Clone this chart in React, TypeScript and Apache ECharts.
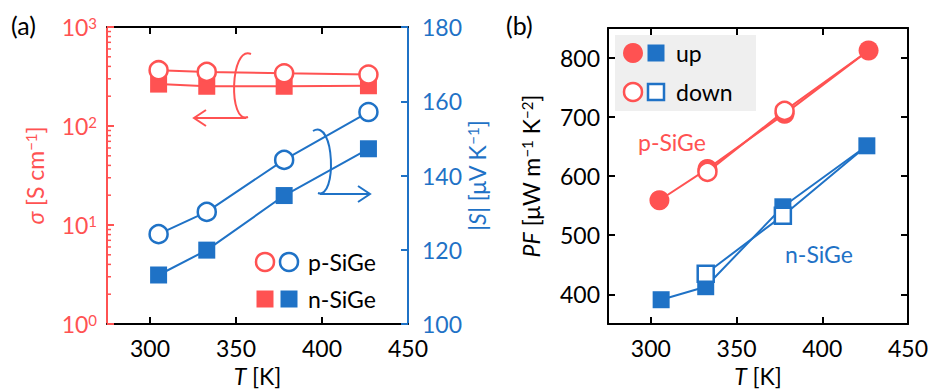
import React, { useEffect, useRef } from 'react';
import * as echarts from 'echarts';

const RED = '#FF5252';
const BLUE = '#1F72C6';
const FONT = 'Lato';
const FS = 23;

// Panel (a)
const tempA = [305, 333, 378, 427];
const sigmaP = [366, 352, 341, 331];
const sigmaN = [265, 252, 252, 255];
const seebeckP = [124.2, 130.2, 144.2, 157.1];
const seebeckN = [113.2, 119.9, 134.6, 147.2];

// Panel (b)
const tempUpP = [305, 333, 378, 427];
const pfUpP = [559, 612, 705, 812];
const tempDownP = [333, 378, 427];
const pfDownP = [607, 710, 812];
const tempUpN = [306, 332, 377, 426];
const pfUpN = [391, 413, 548, 651];
const tempDownN = [332, 377, 426];
const pfDownN = [435, 533, 651];

// Ticks
const xLabelTicks = [300, 350, 400, 450];
const xInnerTicks = [300, 350, 400];
const pfTicks = [400, 500, 600, 700, 800];
const logMinorTicks = [2, 3, 4, 5, 6, 7, 8, 9, 20, 30, 40, 50, 60, 70, 80, 90, 200, 300, 400, 500, 600, 700, 800, 900];

const supRich = (color: string) => ({
  b: { fontSize: FS, color, fontFamily: FONT },
  i: { fontSize: FS, color, fontFamily: FONT, fontStyle: 'italic' },
  s: { fontSize: 15, color, fontFamily: FONT, verticalAlign: 'top' },
});
const nameStyle = (color: string) => ({
  fontSize: FS, color, fontFamily: FONT, rich: supRich(color),
});

function xAxisBottom(gridIndex: number) {
  return {
    type: 'value', gridIndex, min: 275, max: 450, position: 'bottom',
    axisLine: { show: true, onZero: false, lineStyle: { color: '#000', width: 2 } },
    axisTick: { show: true, inside: true, length: 7, lineStyle: { color: '#000', width: 2 }, customValues: xInnerTicks },
    axisLabel: { show: true, customValues: xLabelTicks, color: '#000', fontSize: FS, fontFamily: FONT, margin: 12 },
    splitLine: { show: false },
    name: '{i|T} [K]', nameLocation: 'middle', nameGap: 40,
    nameTextStyle: nameStyle('#000'),
  };
}
function xAxisTop(gridIndex: number) {
  return {
    type: 'value', gridIndex, min: 275, max: 450, position: 'top',
    axisLine: { show: true, onZero: false, lineStyle: { color: '#000', width: 2 } },
    axisTick: { show: true, inside: true, length: 7, lineStyle: { color: '#000', width: 2 }, customValues: xInnerTicks },
    axisLabel: { show: false },
    splitLine: { show: false },
  };
}

function lineSeries(x: number[], y: number[], xi: number, yi: number, color: string, symbol: string, filled: boolean, size: number, lastNone = false) {
  return {
    type: 'line', xAxisIndex: xi, yAxisIndex: yi, silent: true,
    data: x.map((t, i) => (lastNone && i === x.length - 1 ? { value: [t, y[i]], symbol: 'none' } : [t, y[i]])),
    symbol, symbolSize: size, showAllSymbol: true,
    lineStyle: { color, width: 2 },
    itemStyle: filled ? { color, borderWidth: 0 } : { color: '#fff', borderColor: color, borderWidth: 2.5 },
    emphasis: { disabled: true },
  };
}

export default function App() {
  const ref = useRef<HTMLDivElement>(null);
  useEffect(() => {
    const chart = echarts.init(ref.current!, null, { renderer: 'svg' });
    const txt = (x: number, y: number, text: string, fill: string, size = FS) => ({
      type: 'text', x, y, silent: true,
      style: { text, fill, fontSize: size, fontFamily: FONT, align: 'left', verticalAlign: 'middle' },
    });
    const circ = (cx: number, cy: number, r: number, color: string, filled: boolean) => ({
      type: 'circle', silent: true, shape: { cx, cy, r },
      style: filled ? { fill: color } : { fill: '#fff', stroke: color, lineWidth: 2.5 },
    });
    const sq = (cx: number, cy: number, s: number, color: string, filled: boolean) => ({
      type: 'rect', silent: true, shape: { x: cx - s / 2, y: cy - s / 2, width: s, height: s },
      style: filled ? { fill: color } : { fill: '#fff', stroke: color, lineWidth: 2.5 },
    });
    const seg = (x1: number, y1: number, x2: number, y2: number, color: string) => ({
      type: 'line', silent: true, shape: { x1, y1, x2, y2 }, style: { stroke: color, lineWidth: 2 },
    });
    const option: any = {
      animation: false,
      grid: [
        { left: 107, top: 27, width: 301, height: 302 },
        { left: 608, top: 28, width: 300, height: 301 },
      ],
      xAxis: [xAxisBottom(0), xAxisTop(0), xAxisBottom(1), xAxisTop(1)],
      yAxis: [
        {
          type: 'log', gridIndex: 0, min: 1, max: 1000, logBase: 10, position: 'left',
          axisLine: { show: true, lineStyle: { color: RED, width: 2 } },
          axisTick: { show: true, inside: true, length: 7, lineStyle: { color: RED, width: 2 } },
          axisLabel: {
            margin: 10,
            formatter: (v: number) => `{b|10}{s|${Math.round(Math.log10(v))}}`,
            rich: supRich(RED),
          },
          splitLine: { show: false },
          name: '{i|σ} [S cm{s|−1}]', nameLocation: 'middle', nameGap: 61, nameRotate: 90,
          nameTextStyle: nameStyle(RED),
        },
        {
          type: 'value', gridIndex: 0, min: 100, max: 180, interval: 20, position: 'right',
          axisLine: { show: true, lineStyle: { color: BLUE, width: 2 } },
          axisTick: { show: true, inside: true, length: 7, lineStyle: { color: BLUE, width: 2 } },
          axisLabel: { margin: 14, color: BLUE, fontSize: FS, fontFamily: FONT },
          splitLine: { show: false },
          name: '|{i|S}| [μV K{s|−1}]', nameLocation: 'middle', nameGap: 57, nameRotate: 90,
          nameTextStyle: nameStyle(BLUE),
        },
        {
          type: 'value', gridIndex: 1, min: 350, max: 850, position: 'left',
          axisLine: { show: true, lineStyle: { color: '#000', width: 2 } },
          axisTick: { show: true, inside: true, length: 7, lineStyle: { color: '#000', width: 2 }, customValues: pfTicks },
          axisLabel: { margin: 8, color: '#000', fontSize: FS, fontFamily: FONT, customValues: pfTicks },
          splitLine: { show: false },
          name: '{i|PF} [μW m{s|−1} K{s|−2}]', nameLocation: 'middle', nameGap: 66, nameRotate: 90,
          nameTextStyle: nameStyle('#000'),
        },
        {
          type: 'value', gridIndex: 1, min: 350, max: 850, position: 'right',
          axisLine: { show: true, lineStyle: { color: '#000', width: 2 } },
          axisTick: { show: true, inside: true, length: 7, lineStyle: { color: '#000', width: 2 }, customValues: pfTicks },
          axisLabel: { show: false },
          splitLine: { show: false },
        },
      ],
      series: [
        {
          type: 'custom', xAxisIndex: 0, yAxisIndex: 0, silent: true, clip: false,
          data: logMinorTicks.map((v) => [275, v]),
          renderItem: (params: any, api: any) => {
            const p = api.coord([api.value(0), api.value(1)]);
            return { type: 'line', shape: { x1: p[0], y1: p[1], x2: p[0] + 4, y2: p[1] }, style: { stroke: RED, lineWidth: 1.5 } };
          },
        },
        lineSeries(tempA, sigmaN, 0, 0, RED, 'rect', true, 17),
        lineSeries(tempA, sigmaP, 0, 0, RED, 'circle', false, 18),
        lineSeries(tempA, seebeckN, 0, 1, BLUE, 'rect', true, 17),
        lineSeries(tempA, seebeckP, 0, 1, BLUE, 'circle', false, 18),
        lineSeries(tempUpP, pfUpP, 2, 2, RED, 'circle', true, 20),
        lineSeries(tempDownP, pfDownP, 2, 2, RED, 'circle', false, 18, true),
        lineSeries(tempUpN, pfUpN, 2, 2, BLUE, 'rect', true, 17),
        lineSeries(tempDownN, pfDownN, 2, 2, BLUE, 'rect', false, 16, true),
      ],
      graphic: [
        txt(11, 25, '(a)', '#000', 25),
        txt(506, 25, '(b)', '#000', 25),
        // legend (a)
        circ(265, 262, 9, RED, false),
        circ(289, 262, 9, BLUE, false),
        txt(308, 262, 'p-SiGe', '#000'),
        sq(265, 299, 17, RED, true),
        sq(289, 299, 17, BLUE, true),
        txt(308, 299, 'n-SiGe', '#000'),
        // legend (b)
        { type: 'rect', silent: true, shape: { x: 615, y: 35, width: 141, height: 76 }, style: { fill: '#EFEFEF' } },
        circ(633, 53, 10, RED, true),
        sq(656, 53, 17, BLUE, true),
        txt(676, 53, 'up', '#000'),
        circ(633, 92, 9, RED, false),
        sq(656, 92, 16, BLUE, false),
        txt(676, 92, 'down', '#000'),
        txt(638, 142, 'p-SiGe', RED),
        txt(785, 254, 'n-SiGe', BLUE),
        // arrows (a)
        {
          type: 'bezierCurve', silent: true,
          shape: { x1: 251, y1: 54, cpx1: 230, cpy1: 45, cpx2: 228, cpy2: 125, x2: 248, y2: 117 },
          style: { stroke: RED, lineWidth: 2, fill: 'none' },
        },
        seg(246, 118, 194, 118, RED),
        { type: 'polyline', silent: true, shape: { points: [[206, 110], [194, 118], [206, 126]] }, style: { stroke: RED, lineWidth: 2, fill: 'none' } },
        {
          type: 'bezierCurve', silent: true,
          shape: { x1: 313, y1: 131, cpx1: 335, cpy1: 118, cpx2: 337, cpy2: 200, x2: 318, y2: 193 },
          style: { stroke: BLUE, lineWidth: 2, fill: 'none' },
        },
        seg(320, 194, 370, 194, BLUE),
        { type: 'polyline', silent: true, shape: { points: [[358, 186], [370, 194], [358, 202]] }, style: { stroke: BLUE, lineWidth: 2, fill: 'none' } },
      ],
    };
    chart.setOption(option);
    return () => chart.dispose();
  }, []);
  return <div ref={ref} style={{ position: 'absolute', left: 0, top: 0, width: 934, height: 392 }} />;
}
